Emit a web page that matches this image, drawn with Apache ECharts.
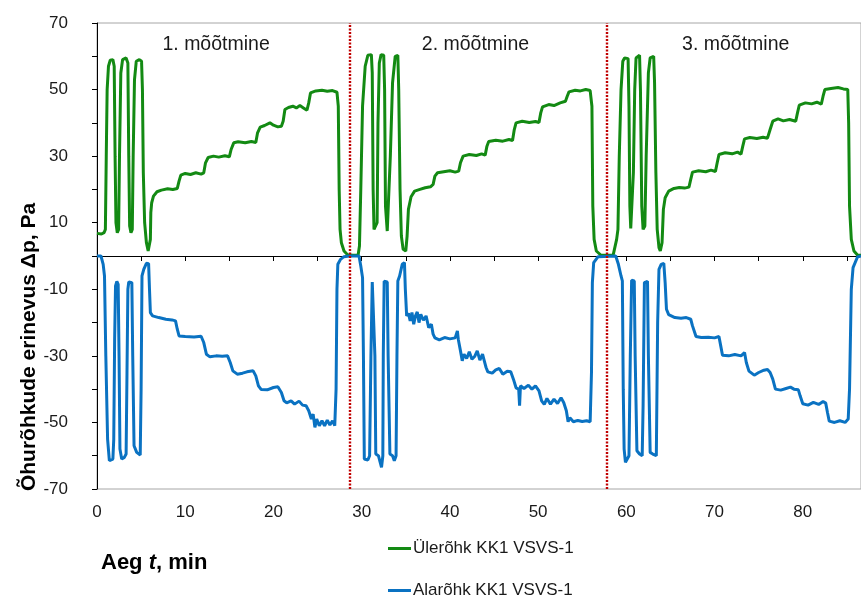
<!DOCTYPE html>
<html>
<head>
<meta charset="utf-8">
<title>Õhurõhkude erinevus</title>
<script src="https://cdn.jsdelivr.net/npm/echarts@6/dist/echarts.min.js"></script>
<style>
  html, body { margin: 0; padding: 0; background: #fff; }
  #chart { width: 861px; height: 601px; }
</style>
</head>
<body>
<div id="chart"></div>
<script>
// andmed: [aeg min, rõhkude vahe Pa]
var overPressure1 = [
  [0,6.8],[0.5,6.6],[0.8,7],[0.95,8],[1.05,30],[1.15,50],[1.3,57],[1.5,58.8],[1.8,59],[1.95,57],[2.05,30],[2.15,10],
  [2.3,7],[2.45,8],[2.55,30],[2.7,55],[2.9,59],[3.3,59.5],[3.5,58],[3.6,30],[3.7,9],[3.85,7],[4.0,8],[4.1,30],
  [4.25,53],[4.45,58.5],[4.8,59],[5.05,58.5],[5.15,50],[5.25,25],[5.4,10],[5.6,4],[5.8,1.5],[6.0,1.8],[6.05,5],
  [6.1,13],[6.2,16],[6.4,18],[6.8,19.3],[7.3,19.8],[8,20.2],[8.6,20],[9.1,20.3],[9.3,22.5],[9.5,24.3],[10,24.8],
  [10.6,24.5],[11.2,25],[11.8,24.6],[12.1,25],[12.3,28],[12.6,29.6],[13.2,30],[13.8,29.7],[14.5,30.1],[15,29.8],
  [15.2,32],[15.5,34],[16,34.3],[16.8,34],[17.5,34.4],[18,34.1],[18.2,37],[18.5,38.7],[19,39.2],[19.6,40],[20,39.3],
  [20.5,38.8],[20.9,39],[21.1,40.5],[21.3,44],[21.7,44.6],[22.2,45],[22.6,44.5],[23,45.2],[23.4,44.5],[23.8,43.8],
  [24,46],[24.2,49],[24.8,49.6],[25.5,49.8],[26.1,49.5],[26.7,49.7],[27.2,49.2],[27.35,45],[27.45,20],[27.55,8],
  [27.7,4],[28,1.5],[28.4,0.4],[29,0.2]
];
var overPressure2 = [
  [29.6,0.3],[29.75,3],[29.9,20],[30.1,45],[30.4,57],[30.7,60.3],[31.1,60.5],[31.2,55],[31.3,20],[31.4,8],[31.6,7.4],
  [31.75,10],[31.85,40],[32.0,58],[32.2,60.5],[32.5,60.3],[32.6,50],[32.7,15],[32.9,7.5],[33.1,8],[33.25,30],
  [33.5,52],[33.8,60],[34.1,60.3],[34.2,50],[34.35,20],[34.5,6],[34.7,2],[35.0,1.5],[35.15,6],[35.3,14],[35.6,17.8],
  [36,19.5],[36.6,20],[37.2,20.5],[37.8,20.8],[38.1,21.5],[38.3,24],[38.6,25],[39.3,25.3],[40,25.6],[40.6,25.2],
  [41,25.5],[41.2,28],[41.5,30],[42.2,30.5],[43,30.2],[43.6,30.7],[44,30.3],[44.2,33],[44.4,34.4],[45.2,34.8],
  [46,34.5],[46.7,35],[47.1,34.7],[47.3,38],[47.5,40],[48.2,40.5],[49,40.1],[49.7,40.4],[50.1,40.1],[50.3,43],
  [50.5,44.8],[51.2,45.5],[51.8,45.2],[52.5,46],[53.1,46.5],[53.3,48],[53.5,49.3],[54.2,49.8],[54.8,49.6],
  [55.4,50],[55.9,49.7],[56.1,45],[56.2,15],[56.35,5],[56.6,1.5],[57.1,0.3],[58.5,0.2]
];
var overPressure3 = [
  [58.6,0.3],[58.9,5],[59.05,8],[59.2,30],[59.4,50],[59.6,58.5],[59.8,59.5],[60.2,59.3],[60.3,45],[60.4,15],
  [60.5,8.3],[60.7,8.5],[60.8,25],[60.95,50],[61.1,59.5],[61.5,60.3],[61.6,50],[61.75,15],[61.9,8],[62.1,9],
  [62.25,30],[62.5,55],[62.7,59.5],[63.1,60],[63.2,52],[63.35,25],[63.5,8],[63.7,2.5],[63.85,1.5],[64.05,4],
  [64.2,14],[64.4,17.5],[64.8,19.5],[65.4,20.3],[66,20.6],[66.6,20.4],[67.1,20.7],[67.3,23],[67.5,25.2],[68.2,25.6],
  [69,25.3],[69.6,25.8],[70.1,25.4],[70.3,28],[70.5,30.5],[71.2,31],[72,30.7],[72.6,31.2],[73,30.6],[73.2,33],
  [73.4,35.2],[74,35.6],[74.8,35.3],[75.5,35.7],[76,35.4],[76.3,38],[76.6,40.5],[77.2,41.2],[77.8,40.6],[78.5,41],
  [79.2,40.5],[79.4,43],[79.6,45.3],[80.3,46],[81,45.7],[81.6,46.2],[82.1,45.6],[82.3,48],[82.5,50],[83.2,50.3],
  [84,50.6],[84.6,50.2],[85.1,50],[85.2,40],[85.3,15],[85.5,5],[85.8,1.5],[86.2,0.3],[86.6,0.2]
];

var underPressure1 = [
  [0,0],[0.45,0],[0.7,-2.5],[0.85,-6],[1.0,-30],[1.2,-55],[1.4,-61.5],[1.6,-62],[1.8,-61],[1.9,-55],[2.0,-25],
  [2.1,-9],[2.25,-7.6],[2.4,-8.5],[2.5,-30],[2.6,-58],[2.8,-61],[3.1,-60.5],[3.3,-59.5],[3.4,-35],[3.5,-10],
  [3.6,-7.8],[3.95,-8],[4.05,-30],[4.2,-57],[4.5,-59],[4.9,-59.8],[5.0,-40],[5.1,-6],[5.3,-4],[5.6,-2.2],[5.85,-2.3],
  [5.95,-10],[6.05,-17],[6.3,-18],[7,-18.5],[7.8,-19],[8.5,-19.2],[8.9,-19.5],[9.1,-22],[9.3,-24],[10,-24.2],
  [11,-24.3],[11.8,-24.1],[12.1,-26],[12.4,-29.5],[12.8,-30.3],[13.5,-30],[14.2,-30.1],[14.8,-30],[15.1,-32],
  [15.4,-34.5],[15.9,-35.5],[16.5,-35.2],[17,-34.8],[17.7,-34.5],[18.0,-36],[18.3,-39],[18.6,-40.1],[19.3,-40.2],
  [20,-39.5],[20.5,-39.3],[20.9,-41],[21.2,-43.5],[21.5,-44.1],[22,-43.5],[22.4,-44.5],[22.9,-43.6],[23.3,-44.8],
  [23.7,-45],[24,-46.5],[24.3,-49],[24.5,-47.5],[24.7,-51.5],[24.9,-49],[25.2,-51],[25.5,-49.5],[25.8,-51],
  [26.1,-49.3],[26.4,-50.8],[26.7,-49.5],[26.95,-51],[27.1,-40],[27.2,-10],[27.3,-2.5],[27.6,-1],[28,-0.2],[28.6,0]
];
var underPressure2 = [
  [29.7,0],[29.9,-3],[30.1,-6.5],[30.2,-30],[30.3,-61],[30.5,-60.5],[30.7,-61.3],[30.9,-60],[31.05,-30],[31.2,-7.8],
  [31.4,-7.5],[31.5,-30],[31.6,-59.5],[31.9,-60],[32.1,-62],[32.25,-63.5],[32.4,-60],[32.45,-30],[32.55,-7.6],
  [32.9,-7.8],[33.0,-30],[33.2,-59.5],[33.5,-60],[33.7,-61.5],[33.9,-60],[34.0,-30],[34.1,-7.5],[34.3,-6],
  [34.6,-2.5],[34.85,-2],[34.95,-10],[35.1,-18],[35.3,-17.2],[35.5,-19.5],[35.7,-17],[35.9,-20.5],[36.1,-18],
  [36.3,-16.8],[36.5,-20],[36.7,-17.5],[37,-19.3],[37.3,-18],[37.6,-21.5],[37.9,-20.5],[38.1,-23.5],[38.3,-24.6],
  [38.8,-25.2],[39.4,-24.5],[40,-24.9],[40.6,-24.6],[40.85,-22.5],[40.95,-25],[41.2,-28.5],[41.4,-31.5],
  [41.6,-29.5],[41.9,-30.8],[42.2,-28.8],[42.5,-31],[42.8,-30.2],[43.1,-28.5],[43.4,-31.3],[43.7,-29.5],
  [43.9,-31.5],[44.1,-33.5],[44.3,-34.8],[44.8,-35.2],[45.2,-34.2],[45.6,-33.8],[46,-35.5],[46.5,-34.6],
  [46.9,-34.8],[47.2,-37],[47.5,-39.6],[47.8,-40],[47.9,-45],[48.0,-39],[48.4,-39.8],[48.9,-38.8],[49.3,-40],
  [49.7,-39],[50.1,-40.5],[50.4,-43.5],[50.7,-44.6],[51,-42.8],[51.4,-44.5],[51.8,-43],[52.2,-44.3],[52.6,-42.6],
  [52.9,-44],[53.2,-46.5],[53.4,-49.8],[53.6,-48.6],[54,-49.8],[54.5,-49.4],[55,-49.7],[55.5,-49.5],[55.9,-49.8],
  [56.05,-35],[56.15,-8],[56.3,-2],[56.8,-0.2],[58.8,0]
];
var underPressure3 = [
  [59.1,-2.5],[59.4,-6],[59.55,-7.5],[59.65,-40],[59.75,-58],[59.9,-62],[60.1,-61.5],[60.3,-60],[60.45,-30],
  [60.6,-7.3],[60.9,-7.5],[61.0,-30],[61.2,-58.5],[61.5,-59.5],[61.8,-60],[61.9,-45],[62.05,-8],[62.4,-7.6],
  [62.5,-30],[62.7,-59],[63.0,-59.5],[63.4,-60],[63.55,-20],[63.7,-4],[63.95,-2.5],[64.25,-2.2],[64.4,-8],
  [64.55,-16],[64.8,-17.6],[65.5,-18.5],[66.2,-18.7],[66.8,-18.5],[67.3,-19],[67.5,-21],[67.9,-24.2],[68.5,-24.5],
  [69.3,-24.4],[70,-24.6],[70.5,-24.2],[70.7,-27],[70.9,-29.8],[71.6,-30],[72.3,-29.6],[73,-30],[73.4,-29],
  [73.6,-32],[73.9,-34.6],[74.5,-35.8],[75,-35],[75.6,-34.3],[76,-34.1],[76.3,-35],[76.6,-37],[76.9,-40],
  [77.5,-40.3],[78.1,-39.8],[78.6,-39.4],[79,-40],[79.5,-40.2],[79.7,-42],[80,-44.4],[80.6,-44.8],[81.2,-44],
  [81.8,-44.6],[82.3,-43.7],[82.6,-44.2],[82.8,-47],[83,-49.6],[83.6,-50],[84.2,-49.5],[84.8,-50],[85.15,-49],
  [85.3,-40],[85.5,-10],[85.7,-3.5],[86.2,-0.3],[86.6,0]
];

var seriesNames = ['Ülerõhk KK1 VSVS-1', 'Alarõhk KK1 VSVS-1'];
var sessionLabels = ['1. mõõtmine', '2. mõõtmine', '3. mõõtmine'];
var sessionLabelX = [13.5, 42.9, 72.4];   // minutites, pealkirja keskkoht
var sessionBreaks = [28.6, 57.75];

var FONT = '"Liberation Sans", Arial, sans-serif';

var myChart = echarts.init(document.getElementById('chart'));

// üks legend iga rea kohta, et need oleksid üksteise all
function legendAt(top, name) {
  return {
    orient: 'vertical',
    left: 388, top: top, padding: 0,
    itemWidth: 23, itemHeight: 3,
    icon: 'rect',
    textStyle: { fontFamily: FONT, fontSize: 17, color: '#1a1a1a', padding: [0, 0, 0, -3] },
    data: [name]
  };
}

var option = {
  animation: false,
  backgroundColor: '#fff',
  grid: {
    left: 97, right: 0, top: 23, bottom: 112,
    show: true, borderColor: '#a6a6a6', borderWidth: 1
  },
  legend: [legendAt(540, seriesNames[0]), legendAt(582, seriesNames[1])],
  xAxis: {
    type: 'value',
    min: 0, max: 86.6, interval: 10,
    splitLine: { show: false },
    axisLine: { lineStyle: { color: '#000', width: 1 } },
    axisTick: { length: 5, lineStyle: { color: '#000' } },
    minorTick: { show: true, splitNumber: 2, length: 5, lineStyle: { color: '#000' } },
    axisLabel: {
      margin: 15, color: '#1a1a1a', fontFamily: FONT, fontSize: 17,
      showMaxLabel: false
    }
  },
  yAxis: {
    type: 'value',
    min: -70, max: 70, interval: 20,
    splitLine: { show: false },
    axisLine: { show: true, lineStyle: { color: '#000', width: 1 } },
    axisTick: { show: true, length: 5, lineStyle: { color: '#000' } },
    minorTick: { show: true, splitNumber: 2, length: 5, lineStyle: { color: '#000' } },
    axisLabel: { margin: 29, color: '#1a1a1a', fontFamily: FONT, fontSize: 17 }
  },
  series: [
    {
      name: seriesNames[0],
      type: 'line',
      showSymbol: false,
      color: '#138a13',
      lineStyle: { width: 3, color: '#138a13' },
      data: overPressure1.concat(overPressure2, overPressure3)
    },
    {
      name: seriesNames[1],
      type: 'line',
      showSymbol: false,
      color: '#0a72c2',
      lineStyle: { width: 3, color: '#0a72c2' },
      data: underPressure1.concat(underPressure2, underPressure3),
      // mõõtmiste piirid
      markLine: {
        silent: true,
        symbol: 'none',
        label: { show: false },
        lineStyle: { color: '#c00000', type: [2, 1.5], width: 2.4 },
        data: sessionBreaks.map(function (x) { return { xAxis: x }; })
      }
    }
  ]
};

myChart.setOption(option);

// pealkirjad mõõtmiste kohal ja telgede nimed
var graphics = sessionLabels.map(function (txt, i) {
  var p = myChart.convertToPixel({ gridIndex: 0 }, [sessionLabelX[i], 63.5]);
  return {
    type: 'text', x: p[0], y: p[1],
    style: { text: txt, font: '19.5px ' + FONT, fill: '#1a1a1a', textAlign: 'center', textVerticalAlign: 'middle' }
  };
});
graphics.push({
  type: 'text', x: 29, y: 347, rotation: Math.PI / 2,
  style: {
    text: 'Õhurõhkude erinevus Δp, Pa',
    font: 'bold 21px ' + FONT, fill: '#000',
    textAlign: 'center', textVerticalAlign: 'middle'
  }
});
graphics.push({
  type: 'text', x: 101, y: 563,
  style: {
    text: '{a|Aeg }{b|t}{a|, min}',
    rich: {
      a: { fontFamily: FONT, fontWeight: 'bold', fontSize: 22, fill: '#000' },
      b: { fontFamily: FONT, fontWeight: 'bold', fontStyle: 'italic', fontSize: 22, fill: '#000' }
    },
    textVerticalAlign: 'middle'
  }
});
myChart.setOption({ graphic: graphics });

window.addEventListener('resize', myChart.resize);
</script>
</body>
</html>
